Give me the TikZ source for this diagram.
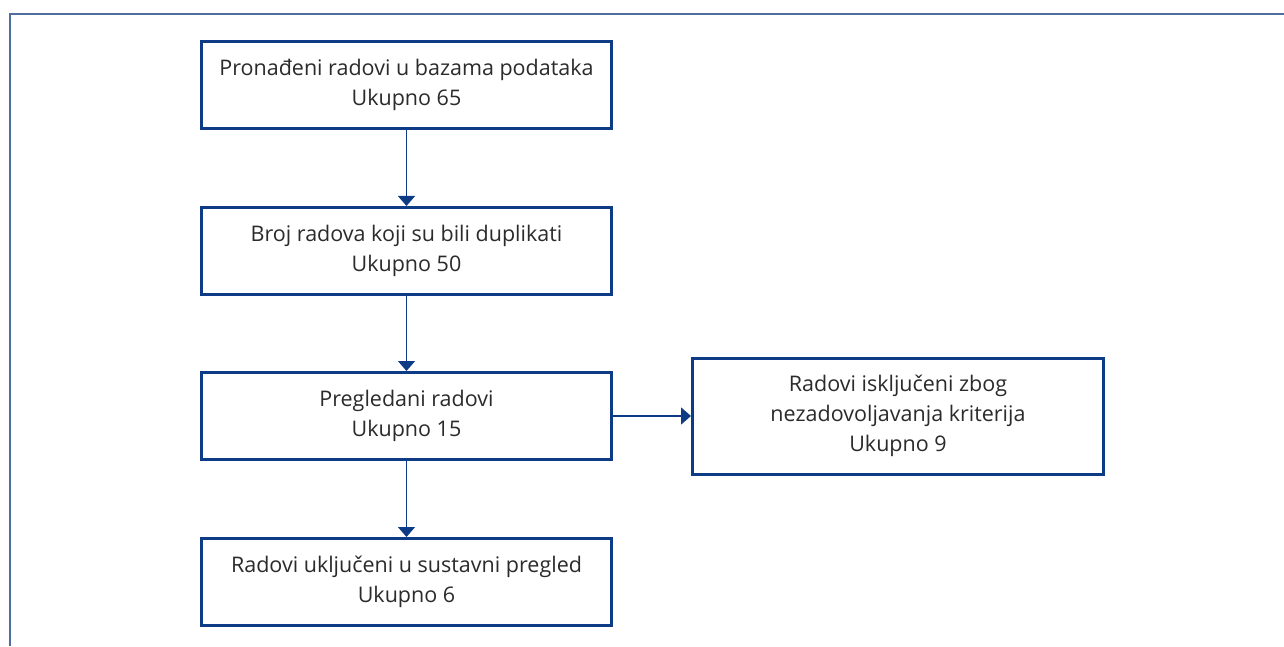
\documentclass[tikz,border=0pt]{standalone}
\usepackage{fontspec}
\setmainfont{Open Sans}
\usetikzlibrary{arrows.meta,positioning}
\definecolor{navyline}{HTML}{0D3B86}
\definecolor{framehead}{HTML}{4F6E9E}
\definecolor{textgrey}{HTML}{2B2B2B}
\tikzset{
  >={Triangle[length=10pt,width=17pt]},
  box/.style={draw=navyline, line width=3pt, fill=white, text=textgrey, align=center,
              font=\fontsize{21.5}{30}\selectfont},
  stage/.style={box, minimum width=410pt, minimum height=87pt},
  arrow/.style={->, draw=navyline, line width=1.5pt}
}
\begin{document}
\begin{tikzpicture}[x=1pt,y=1pt]
\useasboundingbox (0,0) rectangle (1284,646);

% Frame
\draw[framehead, line width=1.5pt] (10,0) -- (10,632) -- (1284,632);

% Stages
\node[stage] (found) at (406.5,561) {Pronađeni radovi u bazama podataka\\Ukupno 65};
\node[stage] (dupes) at (406.5,395) {Broj radova koji su bili duplikati\\Ukupno 50};
\node[stage] (screened) at (406.5,230) {Pregledani radovi\\Ukupno 15};
\node[stage] (included) at (406.5,64) {Radovi uključeni u sustavni pregled\\Ukupno 6};

% Excluded
\node[box, minimum width=411pt, minimum height=116pt] (excluded) at (898,230)
  {Radovi isključeni zbog\\nezadovoljavanja kriterija\\Ukupno 9};

\draw[arrow] (found.south) -- (dupes.north);
\draw[arrow] (dupes.south) -- (screened.north);
\draw[arrow] (screened.south) -- (included.north);
\draw[arrow] (screened.east) -- (excluded.west);

\end{tikzpicture}
\end{document}
